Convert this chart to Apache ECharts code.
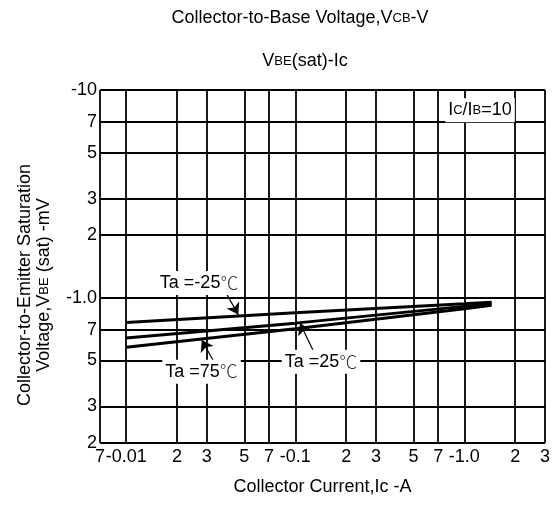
<!DOCTYPE html>
<html>
<head>
<meta charset="utf-8">
<title>VBE(sat)-Ic</title>
<script src="https://cdn.jsdelivr.net/npm/echarts@6/dist/echarts.min.js"></script>
<style>html,body{margin:0;padding:0;background:#fff}</style>
</head>
<body>
<div id="main" style="width:556px;height:505px;"></div>
<script type="text/javascript">
// collector current, A
var current = [0.01, 0.1, 1.0, 1.45]
// |VBE(sat)| in V, one array per ambient temperature
var vbeM25 = [0.76, 0.848, 0.935, 0.952]
var vbe25 = [0.641, 0.755, 0.909, 0.936]
var vbe75 = [0.578, 0.71, 0.886, 0.92]

// grid lines and their labels (log paper)
var xTicks = [0.007, 0.01, 0.02, 0.03, 0.05, 0.07, 0.1, 0.2, 0.3, 0.5, 0.7, 1, 2, 3]
var xTickLabels = ['7', '-0.01', '2', '3', '5', '7', '-0.1', '2', '3', '5', '7', '-1.0', '2', '3']
var yTicks = [0.2, 0.3, 0.5, 0.7, 1, 2, 3, 5, 7, 10]
var yTickLabels = ['2', '3', '5', '7', '-1.0', '2', '3', '5', '7', '-10']

var FONT = '"Liberation Sans", Arial, sans-serif'
var CJK = '"Noto Sans CJK SC", sans-serif'
var xMin = xTicks[0], xMax = xTicks[xTicks.length - 1]
var yMin = yTicks[0], yMax = yTicks[yTicks.length - 1]

var myChart = echarts.init(document.getElementById('main'))

var toPairs = function(ys) {
    var out = []
    for (var i = 0; i < current.length; i++) {
        out.push([current[i], ys[i]])
    }
    return out
}

var xLines = []
for (var i = 0; i < xTicks.length; i++) {
    xLines.push([{ name: xTickLabels[i], coord: [xTicks[i], yMin] }, { coord: [xTicks[i], yMax] }])
}
var yLines = []
for (var j = 0; j < yTicks.length; j++) {
    yLines.push([{ name: yTickLabels[j], coord: [xMin, yTicks[j]] }, { coord: [xMax, yTicks[j]] }])
}

var curve = function(name, ys) {
    return {
        name: name,
        type: 'line',
        data: toPairs(ys),
        showSymbol: false,
        symbol: 'none',
        lineStyle: { color: '#000', width: 3 },
        z: 3
    }
}

var gridMark = function(lines, dist) {
    return {
        type: 'line',
        data: [],
        z: 1,
        markLine: {
            silent: true,
            symbol: ['none', 'none'],
            lineStyle: { color: '#000', width: 1.8, type: 'solid' },
            label: {
                show: true, position: 'start', distance: dist, formatter: '{b}',
                color: '#000', fontSize: 18, fontFamily: FONT
            },
            data: lines
        }
    }
}

var richText = {
    n: { fontSize: 18, fontFamily: FONT, color: '#000' },
    s: { fontSize: 13, fontFamily: FONT, color: '#000' },
    c: { fontSize: 18, fontFamily: CJK, fontWeight: 300, color: '#333' }
}

var option = {
    animation: false,
    grid: { left: 100, right: 11, top: 90, bottom: 62 },
    xAxis: {
        type: 'log', logBase: 10, min: xMin, max: xMax,
        name: 'Collector Current,Ic -A',
        nameLocation: 'middle', nameGap: 35,
        nameTextStyle: { color: '#000', fontSize: 18, fontFamily: FONT },
        axisLine: { show: false }, axisTick: { show: false },
        axisLabel: { show: false }, splitLine: { show: false }
    },
    yAxis: {
        type: 'log', logBase: 10, min: yMin, max: yMax,
        axisLine: { show: false }, axisTick: { show: false },
        axisLabel: { show: false }, splitLine: { show: false }
    },
    graphic: [
        {
            type: 'text', x: 300, y: 18,
            style: {
                text: '{n|Collector-to-Base Voltage,V}{s|CB}{n|-V}',
                textAlign: 'center', textVerticalAlign: 'middle', fill: '#000',
                rich: {
                    n: { fontSize: 18, fontFamily: FONT, fill: '#000' },
                    s: { fontSize: 13, fontFamily: FONT, fill: '#000' }
                }
            }
        },
        {
            type: 'text', x: 305, y: 61,
            style: {
                text: '{n|V}{s|BE}{n|(sat)-Ic}',
                textAlign: 'center', textVerticalAlign: 'middle', fill: '#000',
                rich: {
                    n: { fontSize: 18, fontFamily: FONT, fill: '#000' },
                    s: { fontSize: 13, fontFamily: FONT, fill: '#000' }
                }
            }
        },
        {
            type: 'text', x: 35, y: 285, rotation: Math.PI / 2,
            style: {
                text: '{n|Collector-to-Emitter Saturation}\n{n|Voltage,V}{s|BE}{n| (sat) -mV}',
                textAlign: 'center', textVerticalAlign: 'middle', fill: '#000',
                rich: {
                    n: { fontSize: 18, fontFamily: FONT, fill: '#000', lineHeight: 19 },
                    s: { fontSize: 13, fontFamily: FONT, fill: '#000', lineHeight: 19 }
                }
            }
        }
    ],
    series: [
        gridMark(xLines, 5),
        gridMark(yLines, 3),
        curve('Ta=-25', vbeM25),
        curve('Ta=25', vbe25),
        curve('Ta=75', vbe75),
        {
            type: 'line',
            data: [],
            z: 4,
            markPoint: {
                silent: true,
                symbol: 'circle', symbolSize: 0,
                label: {
                    show: true, position: 'inside',
                    color: '#000', fontSize: 18, fontFamily: FONT,
                    backgroundColor: '#fff', padding: [3, 3],
                    rich: richText
                },
                data: [
                    { name: 'Ta =-25', coord: [0.027, 1.178], label: { formatter: '{n|Ta =-25}{c|℃}' } },
                    { name: 'Ta =25', coord: [0.142, 0.4926], label: { formatter: '{n|Ta =25}{c|℃}' } },
                    { name: 'Ta =75', coord: [0.0279, 0.441], label: { formatter: '{n|Ta =75}{c|℃}' } },
                    { name: 'ratio', coord: [1.238, 8.0], label: { formatter: '{n|I}{s|C}{n|/I}{s|B}{n|=10}' } }
                ]
            }
        },
        {
            type: 'line',
            data: [],
            z: 5,
            markLine: {
                silent: true,
                symbol: ['none', 'arrow'],
                symbolSize: 11,
                lineStyle: { color: '#000', width: 1.2, type: 'solid' },
                label: { show: false },
                data: [
                    [{ coord: [0.0367, 1.152] }, { coord: [0.046, 0.83] }],
                    [{ coord: [0.1278, 0.556] }, { coord: [0.1067, 0.754] }],
                    [{ coord: [0.0343, 0.466] }, { coord: [0.028, 0.626] }]
                ]
            }
        }
    ]
}
myChart.setOption(option)
</script>
</body>
</html>
